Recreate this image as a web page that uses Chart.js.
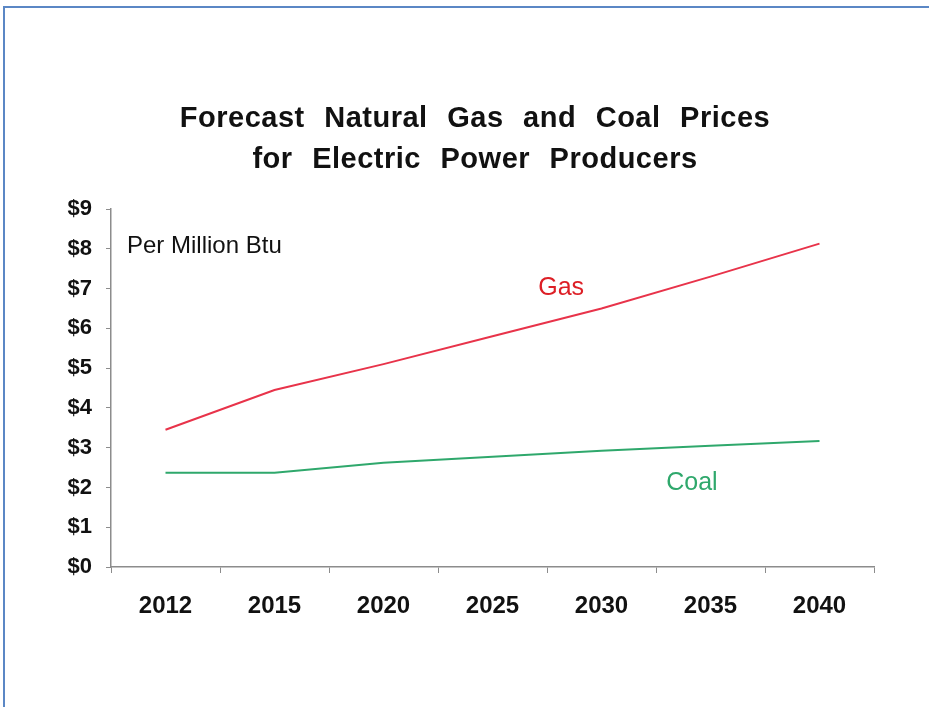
<!DOCTYPE html>
<html>
<head>
<meta charset="utf-8">
<script src="https://cdn.jsdelivr.net/npm/chart.js@4/dist/chart.umd.min.js"></script>
<style>
  html, body { margin: 0; padding: 0; background: #fff; overflow: hidden; }
  #wrap { position: relative; width: 929px; height: 707px; }
  #frame { position: absolute; left: 3px; top: 6px; width: 940px; height: 720px;
           border-left: 2px solid #5b87c5; border-top: 2px solid #5b87c5; }
  canvas { position: absolute; left: 0; top: 0; }
</style>
</head>
<body>
<div id="wrap">
  <div id="frame"></div>
  <canvas id="priceChart" width="929" height="707"></canvas>
</div>
<script>
  const years = ['2012','2015','2020','2025','2030','2035','2040'];
  const gasPrices  = [3.45, 4.45, 5.10, 5.80, 6.50, 7.30, 8.13];
  const coalPrices = [2.37, 2.37, 2.62, 2.77, 2.92, 3.05, 3.17];
  const yTickLabels = ['$0','$1','$2','$3','$4','$5','$6','$7','$8','$9'];
  const titleLines = ['Forecast Natural Gas and Coal Prices', 'for Electric Power Producers'];

  const axisGray = '#8c8c8c';
  const gasRed = '#e8334a';
  const coalGreen = '#2fa86c';

  // title and the in-plot notes, placed off the chart area / scales
  const notes = {
    id: 'notes',
    afterDraw(chart) {
      const ctx = chart.ctx;
      const x = chart.scales.x, y = chart.scales.y;
      ctx.save();
      ctx.textBaseline = 'middle';
      ctx.textAlign = 'center';
      ctx.fillStyle = '#111';
      ctx.font = 'bold 29px "Liberation Sans", Arial, sans-serif';
      ctx.letterSpacing = '0.5px';
      ctx.wordSpacing = '11px';
      ctx.fillText(titleLines[0], 475, 119);
      ctx.fillText(titleLines[1], 475, 160);
      ctx.letterSpacing = '0px';
      ctx.wordSpacing = '0px';

      ctx.textAlign = 'left';
      ctx.font = '24px "Liberation Sans", Arial, sans-serif';
      ctx.fillStyle = '#111';
      ctx.fillText('Per Million Btu', 127, y.getPixelForValue(8.07));

      ctx.textAlign = 'center';
      ctx.font = '25px "Liberation Sans", Arial, sans-serif';
      ctx.fillStyle = '#dd1f26';
      ctx.fillText('Gas', x.getPixelForValue(3.63), y.getPixelForValue(7.0));
      ctx.fillStyle = coalGreen;
      ctx.fillText('Coal', x.getPixelForValue(4.83), y.getPixelForValue(2.1));
      ctx.restore();
    }
  };

  const ctx = document.getElementById('priceChart').getContext('2d');
  new Chart(ctx, {
    type: 'line',
    data: {
      labels: years,
      datasets: [
        { label: 'Gas', data: gasPrices, borderColor: gasRed, borderWidth: 2, pointRadius: 0, tension: 0 },
        { label: 'Coal', data: coalPrices, borderColor: coalGreen, borderWidth: 2, pointRadius: 0, tension: 0 }
      ]
    },
    options: {
      responsive: false,
      animation: false,
      layout: { padding: { left: 0, top: 209, right: 55, bottom: 0 } },
      plugins: { legend: { display: false }, tooltip: { enabled: false } },
      scales: {
        x: {
          offset: true,
          grid: { offset: true, drawOnChartArea: false, drawTicks: true, tickLength: 6, color: axisGray },
          border: { display: true, color: axisGray, width: 1.5 },
          ticks: { color: '#111', padding: 19,
                   font: { family: "'Liberation Sans', Arial, sans-serif", weight: 'bold', size: 24 } },
          afterFit(scale) { scale.height = 140; }
        },
        y: {
          min: 0, max: 9,
          grid: { drawOnChartArea: false, drawTicks: true, tickLength: 5, color: axisGray },
          border: { display: true, color: axisGray, width: 1.5 },
          ticks: { stepSize: 1, color: '#111', padding: 14,
                   font: { family: "'Liberation Sans', Arial, sans-serif", weight: 'bold', size: 22 },
                   callback: (v) => yTickLabels[v] },
          afterFit(scale) { scale.width = 111; }
        }
      }
    },
    plugins: [notes]
  });
</script>
</body>
</html>
